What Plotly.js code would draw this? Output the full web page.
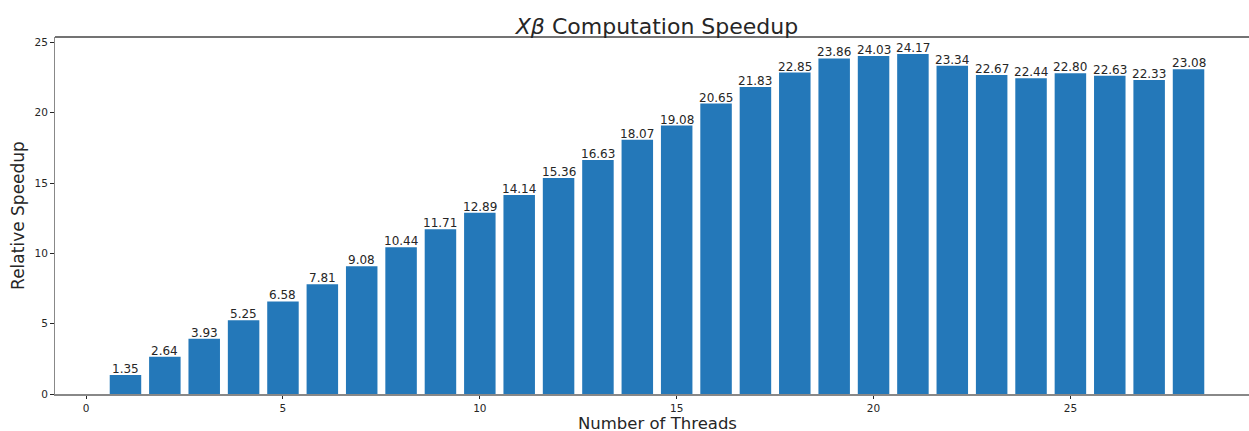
<!DOCTYPE html>
<html>
<head>
<meta charset="utf-8">
<script src="https://cdn.plot.ly/plotly-3.0.1.min.js"></script>
<style>
  html, body { margin: 0; padding: 0; overflow: hidden; background: #fff; }
  #chart { width: 1260px; height: 431px; }
</style>
</head>
<body>
<div id="chart"></div>
<script>
// Thread counts and measured relative speedup of the Xβ product
const threads = [1, 2, 3, 4, 5, 6, 7, 8, 9, 10, 11, 12, 13, 14,
                 15, 16, 17, 18, 19, 20, 21, 22, 23, 24, 25, 26, 27, 28];
const speedup = [1.35, 2.64, 3.93, 5.25, 6.58, 7.81, 9.08, 10.44, 11.71, 12.89,
                 14.14, 15.36, 16.63, 18.07, 19.08, 20.65, 21.83, 22.85, 23.86, 24.03,
                 24.17, 23.34, 22.67, 22.44, 22.80, 22.63, 22.33, 23.08];
const xTicks = [0, 5, 10, 15, 20, 25];
const yTicks = [0, 5, 10, 15, 20, 25];

const font = 'DejaVu Sans, sans-serif';
const ink = '#262626';

const bars = {
  type: 'bar',
  x: threads,
  y: speedup,
  width: 0.8,
  marker: { color: '#2478b9', line: { width: 0 } },
  hoverinfo: 'x+y'
};

// value labels sitting on top of each bar
const labels = threads.map((t, i) => ({
  x: t, y: speedup[i], xref: 'x', yref: 'y',
  text: speedup[i].toFixed(2),
  showarrow: false, xanchor: 'center', yanchor: 'bottom', yshift: -3,
  font: { family: font, size: 12, color: ink }
}));

// x axis title placed below the tick labels
labels.push({
  x: 0.5, y: 0, xref: 'paper', yref: 'paper',
  text: 'Number of Threads', showarrow: false,
  xanchor: 'center', yanchor: 'middle', valign: 'middle',
  height: 14, yshift: -29,
  font: { family: font, size: 16.5, color: ink }
});

const layout = {
  width: 1260,
  height: 431,
  margin: { l: 55, r: 1, t: 37, b: 37 },
  paper_bgcolor: '#fff',
  plot_bgcolor: '#fff',
  showlegend: false,
  title: {
    text: '<i>Xβ</i> Computation Speedup',
    font: { family: font, size: 22, color: ink },
    x: 0.5, xref: 'paper', xanchor: 'center',
    y: 1, yref: 'paper', yanchor: 'bottom', pad: { b: 3 }
  },
  xaxis: {
    range: [-0.79, 29.79],
    tickvals: xTicks,
    ticktext: xTicks.map(String),
    ticks: 'outside', ticklen: 3.5, tickwidth: 1, tickcolor: ink,
    tickfont: { family: font, size: 10.5, color: ink },
    showgrid: false, zeroline: false,
    showline: true, linecolor: '#888', linewidth: 1.5
  },
  yaxis: {
    range: [0, 25.38],
    tickvals: yTicks,
    ticktext: yTicks.map(String),
    ticks: 'outside', ticklen: 3.5, tickwidth: 1, tickcolor: ink,
    tickfont: { family: font, size: 10.5, color: ink },
    showgrid: false, zeroline: false,
    showline: true, linecolor: '#888', linewidth: 1.5,
    title: { text: 'Relative Speedup', font: { family: font, size: 17, color: ink }, standoff: 5 }
  },
  shapes: [{
    type: 'line', xref: 'paper', yref: 'paper',
    x0: 0, x1: 1, y0: 1, y1: 1,
    line: { color: '#444', width: 1.3 }
  }],
  annotations: labels
};

Plotly.newPlot('chart', [bars], layout, { displayModeBar: false, staticPlot: true });
</script>
</body>
</html>
